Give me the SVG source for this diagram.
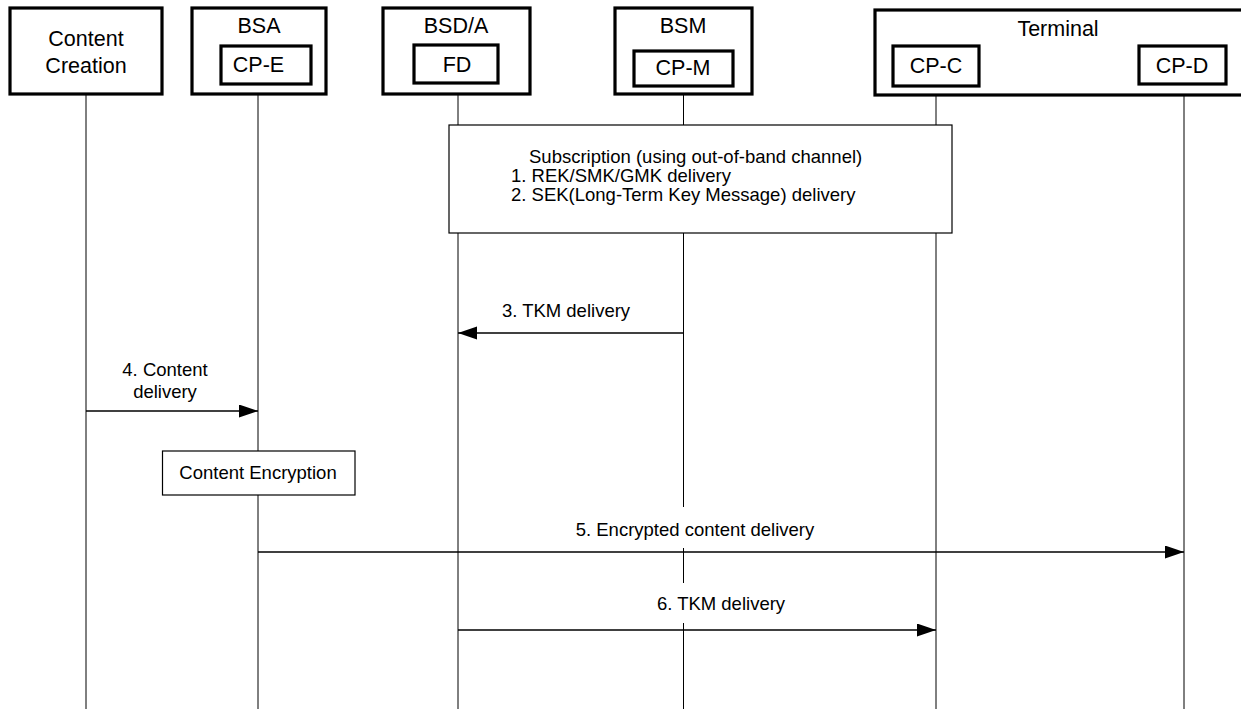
<svg xmlns="http://www.w3.org/2000/svg" width="1241" height="709" viewBox="0 0 1241 709">
<defs>
<style>
.box{fill:#fff;stroke:#000;stroke-width:3.2}
.inner{fill:#fff;stroke:#000;stroke-width:3.2}
.thin{fill:#fff;stroke:#000;stroke-width:1.2}
.life{stroke:#000;stroke-width:1;fill:none}
.msg{stroke:#000;stroke-width:1.5;fill:none;marker-end:url(#ah)}
text{font-family:"Liberation Sans",Arial,sans-serif;fill:#000}
.h{font-size:21.5px;text-anchor:middle}
.l{font-size:18.5px}
.c{text-anchor:middle}
</style>
<marker id="ah" markerUnits="userSpaceOnUse" markerWidth="20" markerHeight="14" refX="19" refY="6.5" orient="auto">
<path d="M0,0 L19,6.5 L0,13 Z" fill="#000"/>
</marker>
</defs>
<rect width="1241" height="709" fill="#fff"/>

<g id="lifelines">
<line class="life" x1="86" y1="95" x2="86" y2="709"/>
<line class="life" x1="258" y1="84" x2="258" y2="709"/>
<line class="life" x1="458" y1="83" x2="458" y2="709"/>
<line class="life" x1="683.5" y1="86" x2="683.5" y2="507"/>
<line class="life" x1="683.5" y1="548" x2="683.5" y2="583"/>
<line class="life" x1="683.5" y1="623" x2="683.5" y2="709"/>
<line class="life" x1="936" y1="87" x2="936" y2="709"/>
<line class="life" x1="1184" y1="84" x2="1184" y2="709"/>
</g>

<g id="content-creation">
<rect class="box" x="10" y="8" width="152" height="86"/>
<text class="h" x="86" y="46">Content</text>
<text class="h" x="86" y="73">Creation</text>
</g>

<g id="bsa">
<rect class="box" x="192" y="8" width="134" height="86"/>
<text class="h" x="259" y="33">BSA</text>
<rect class="inner" x="221" y="46" width="90" height="38"/>
<text class="h" x="258.5" y="72">CP-E</text>
</g>

<g id="bsda">
<rect class="box" x="383" y="8" width="147" height="86"/>
<text class="h" x="456" y="33">BSD/A</text>
<rect class="inner" x="414" y="45" width="84" height="38"/>
<text class="h" x="457" y="72">FD</text>
</g>

<g id="bsm">
<rect class="box" x="615" y="8" width="137" height="86"/>
<text class="h" x="683" y="33">BSM</text>
<rect class="inner" x="634" y="51" width="99" height="35"/>
<text class="h" x="683" y="75">CP-M</text>
</g>

<g id="terminal">
<rect class="box" x="875" y="10" width="380" height="85"/>
<text class="h" x="1058" y="36">Terminal</text>
<rect class="inner" x="893" y="46" width="86" height="40"/>
<text class="h" x="936" y="73">CP-C</text>
<rect class="inner" x="1139" y="46" width="87" height="38"/>
<text class="h" x="1182" y="73">CP-D</text>
</g>

<g id="subscription">
<rect class="thin" x="449" y="125" width="503" height="108"/>
<text class="l" x="529" y="163">Subscription (using out-of-band channel)</text>
<text class="l" x="511" y="182">1. REK/SMK/GMK delivery</text>
<text class="l" x="511" y="201">2. SEK(Long-Term Key Message) delivery</text>
</g>

<g id="content-encryption">
<rect class="thin" x="162.5" y="451" width="192.5" height="44"/>
<text class="l c" x="258" y="479">Content Encryption</text>
</g>

<g id="connectors">
<line class="msg" x1="683.5" y1="333" x2="458" y2="333"/>
<line class="msg" x1="86" y1="411" x2="258" y2="411"/>
<line class="msg" x1="258" y1="552" x2="1184" y2="552"/>
<line class="msg" x1="458" y1="630" x2="936" y2="630"/>
<text class="l c" x="566" y="317">3. TKM delivery</text>
<text class="l c" x="165" y="376">4. Content</text>
<text class="l c" x="165" y="398">delivery</text>
<text class="l c" x="695" y="536">5. Encrypted content delivery</text>
<text class="l c" x="721" y="610">6. TKM delivery</text>
</g>
</svg>
